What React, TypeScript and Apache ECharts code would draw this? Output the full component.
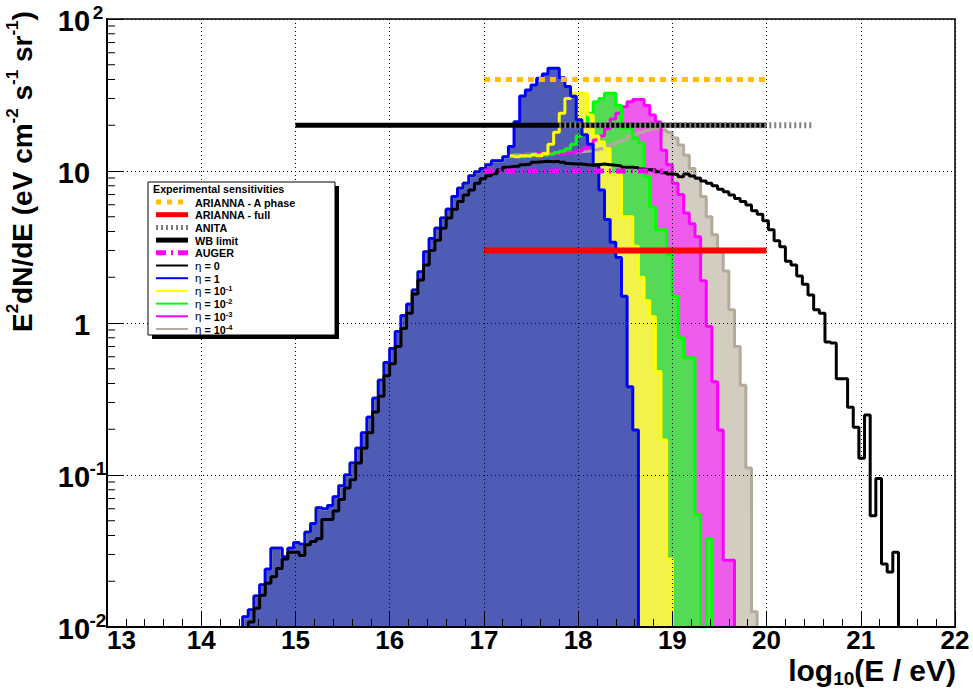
import React, { useEffect, useRef } from 'react';
import * as echarts from 'echarts';

// ---------------- data ----------------
const BIN_START = 13;
const BIN_WIDTH = 0.06;
const Y_FLOOR = 0.01;

// eta = 0 (black outline, no fill), first bin index 25 (log10E = 14.50)
const eta0FirstBin = 25;
const eta0Values = [
  0.0108, 0.0133, 0.0162, 0.0194, 0.0214, 0.0243, 0.028, 0.031, 0.031, 0.0295,
  0.0347, 0.0365, 0.038, 0.051, 0.051, 0.058, 0.069, 0.082, 0.093, 0.12,
  0.15, 0.19, 0.26, 0.33, 0.45, 0.54, 0.7, 0.92, 1.16, 1.55,
  1.92, 2.41, 3.0, 3.5, 4.2, 4.9, 5.6, 6.3, 6.95, 7.5,
  8.3, 8.9, 9.3, 9.6, 10.2, 10.6, 10.7, 10.8, 11.0, 11.1,
  11.4, 11.5, 11.6, 11.5, 11.6, 11.4, 11.2, 11.1, 11.1, 11.0,
  10.9, 11.0, 11.1, 11.0, 10.9, 10.8, 10.6, 10.6, 10.5, 10.3,
  10.2, 10.2, 9.9, 9.75, 9.55, 9.5, 9.18, 9.55, 9.27, 8.95,
  8.6, 8.3, 8.0, 7.58, 7.3, 6.95, 6.6, 6.3, 5.97, 5.48,
  5.2, 4.7, 4.1, 3.48, 3.18, 2.55, 2.41, 2.04, 1.8, 1.53,
  1.22, 1.16, 0.75, 0.74, 0.43, 0.43, 0.279, 0.206, 0.129, 0.248,
  0.054, 0.095, 0.026, 0.023, 0.031,
];

// low-energy part common to all eta != 0 histograms, first bin 24 (log10E = 14.44)
const sharedFirstBin = 24;
const sharedRiseValues = [
  0.0117, 0.013, 0.016, 0.019, 0.024, 0.033, 0.033, 0.029, 0.033, 0.036,
  0.035, 0.042, 0.048, 0.061, 0.06, 0.063, 0.072, 0.085, 0.1, 0.12,
  0.15, 0.19, 0.24, 0.32, 0.42, 0.55, 0.68, 0.88, 1.12, 1.33,
  1.65, 2.17, 2.94, 3.6, 4.2, 4.9, 5.6, 6.8, 7.7, 8.3,
  9.3, 9.9, 10.4, 11.0, 11.7, 11.7, 12.4,
];

// high-energy tails, first bin 71 (log10E = 17.26)
const tailFirstBin = 71;
const eta1Tail = [
  14.5, 21.1, 31.1, 34.1, 36.8, 40.8, 43.5, 47.4, 47.4, 41,
  36, 31, 21.7, 17.3, 15, 11, 7.5, 4.8, 3.4, 2.7,
  1.5, 0.38, 0.198,
];
const etaE1Tail = [
  12.6, 12.4, 12.6, 12.5, 12.8, 12.6, 13.0, 15, 18, 24,
  30, 32.5, 32.5, 32.5, 23.4, 17, 15.5, 14, 9.5, 9.4,
  5.0, 5.0, 3.2, 2.0, 1.4, 1.1, 0.48, 0.17, 0.028,
];
const etaE2Tail = [
  12.5, 12.6, 12.4, 12.7, 12.6, 12.8, 12.7, 12.9, 13.2, 13.5,
  14, 15, 17, 20, 24, 28.6, 30, 32.5, 32.5, 27,
  19.2, 19.2, 16.5, 15.3, 9.2, 5.8, 4.1, 4.1, 2.8, 1.5,
  0.8, 0.59, 0.59, 0.055, 0.01, 0.038,
];
const etaE3Tail = [
  12.7, 12.5, 12.8, 12.9, 12.6, 13.0, 12.8, 13.0, 13.1, 13.0,
  13.2, 13.3, 13.5, 14, 15, 16, 17, 19, 22, 24,
  26.5, 28.6, 29.5, 29.5, 27, 23.4, 21, 13.7, 11, 8.3,
  7, 5.3, 4.5, 3.7, 1.9, 0.95, 0.41, 0.198, 0.0275, 0.0275,
];
const etaE4Tail = [
  12.6, 12.8, 12.7, 12.9, 13.0, 12.8, 13.1, 13.0, 13.2, 13.1,
  13.3, 13.2, 13.4, 13.5, 13.6, 13.8, 14, 14.5, 15, 15.5,
  16, 17, 17.5, 18, 18.5, 19, 19.2, 18.6, 18, 16.5,
  14.8, 12.7, 10.4, 9.0, 6.8, 5.0, 3.8, 3.0, 2.2, 1.22,
  0.7, 0.39, 0.111, 0.0126,
];

// experimental sensitivities (flat lines): [from, to] in log10(E/eV) and level
const ariannaARange = [17, 20];
const ariannaALevel = 40;
const ariannaFullRange = [17, 20];
const ariannaFullLevel = 3;
const anitaRange = [17.8, 20.5];
const anitaLevel = 20;
const wbRange = [15, 20];
const wbLevel = 20;
const augerRange = [17, 18.9];
const augerLevel = 10;

// axis ticks
const yTickExponents = [-2, -1, 0, 1, 2];
const yTickLabels = ['{b|10}{s|-2}', '{b|10}{s|-1}', '{b|1}{s| }', '{b|10}{s| }', '{b|10}{s|2}'];
const yMinorMantissas = [2, 3, 4, 5, 6, 7, 8, 9];
const yMinorDecades = [-2, -1, 0, 1];

// legend
const legendTitle = 'Experimental sensitivities';
const legendTexts = [
  '{t|ARIANNA - A phase}',
  '{t|ARIANNA - full}',
  '{t|ANITA}',
  '{t|WB limit}',
  '{t|AUGER}',
  '{e|η}{t| = 0}',
  '{e|η}{t| = 1}',
  '{e|η}{t| = 10}{s|-1}',
  '{e|η}{t| = 10}{s|-2}',
  '{e|η}{t| = 10}{s|-3}',
  '{e|η}{t| = 10}{s|-4}',
];

// ---------------- styles ----------------
const FONT = "'Liberation Sans', Arial, Helvetica, sans-serif";
const C_BLUE = '#0000ff';
const C_YELLOW = '#ffff00';
const C_GREEN = '#00ff00';
const C_MAGENTA = '#ff00ff';
const C_GRAY = '#b4aa9c';
const C_ORANGE = '#ffbf00';

// hatched-fill look approximated by the average tone of each pattern
const F_BLUE = '#4f5cb6';
const F_YELLOW = '#f2f24a';
const F_GREEN = '#55da55';
const F_MAGENTA = '#ee5cee';
const F_GRAY = '#d3ccc1';

const legendSampleStyles: any[] = [
  { stroke: C_ORANGE, lineWidth: 5, lineDash: [5, 6] },
  { stroke: '#ff0000', lineWidth: 5 },
  { stroke: '#7f7f7f', lineWidth: 5, lineDash: [2, 3] },
  { stroke: '#000000', lineWidth: 5 },
  { stroke: C_MAGENTA, lineWidth: 5, lineDash: [10, 5, 2, 5] },
  { stroke: '#000000', lineWidth: 2 },
  { stroke: C_BLUE, lineWidth: 2 },
  { stroke: C_YELLOW, lineWidth: 2 },
  { stroke: C_GREEN, lineWidth: 2 },
  { stroke: C_MAGENTA, lineWidth: 2 },
  { stroke: C_GRAY, lineWidth: 2 },
];

function edge(k: number) {
  return Math.round((BIN_START + k * BIN_WIDTH) * 1000) / 1000;
}

function histPoints(first: number, values: number[]) {
  const pts: number[][] = [[edge(first), Y_FLOOR]];
  values.forEach((v, i) => pts.push([edge(first + i), v]));
  pts.push([edge(first + values.length), Y_FLOOR]);
  return pts;
}

function flatLine(range: number[], level: number, lineStyle: any, z: number) {
  return {
    type: 'line',
    data: [[range[0], level], [range[1], level]],
    symbol: 'none',
    silent: true,
    z,
    lineStyle: { cap: 'butt', ...lineStyle },
  };
}

export default function App() {
  const ref = useRef<HTMLDivElement>(null);

  useEffect(() => {
    if (!ref.current) return;
    const chart = echarts.init(ref.current, undefined, { renderer: 'svg' });

    const hist = (tail: number[], color: string, fill: string) => ({
      type: 'line',
      data: histPoints(sharedFirstBin, sharedRiseValues.concat(tail)),
      step: 'end',
      symbol: 'none',
      silent: true,
      clip: true,
      z: 2,
      lineStyle: { color, width: 3 },
      areaStyle: { color: fill, origin: 'start', opacity: 1 },
    });

    if (sharedFirstBin + sharedRiseValues.length !== tailFirstBin) {
      console.warn('bin mismatch');
    }

    const yMinorValues: number[] = [];
    yMinorDecades.forEach((d) => yMinorMantissas.forEach((m) => yMinorValues.push(m * Math.pow(10, d))));

    const legendX = 148;
    const legendY = 182;
    const rowY0 = 202;
    const rowStep = 12.7;

    const graphic: any[] = [
      { type: 'rect', z: 100, shape: { x: legendX + 4, y: legendY + 4, width: 187, height: 153 }, style: { fill: '#000' } },
      { type: 'rect', z: 101, shape: { x: legendX, y: legendY, width: 187, height: 153 }, style: { fill: '#fff', stroke: '#000', lineWidth: 1 } },
      {
        type: 'text', z: 102, x: 153, y: 189,
        style: { text: legendTitle, fill: '#000', font: `bold 10.7px ${FONT}`, textAlign: 'left', align: 'left', textVerticalAlign: 'middle', verticalAlign: 'middle' },
      },
    ];
    legendTexts.forEach((txt, i) => {
      const y = rowY0 + i * rowStep;
      graphic.push({
        type: 'line', z: 102,
        shape: { x1: 156, y1: y, x2: 188, y2: y },
        style: { lineCap: 'butt', ...legendSampleStyles[i] },
      });
      graphic.push({
        type: 'text', z: 102, x: 195, y,
        style: {
          text: txt, fill: '#000', textAlign: 'left', align: 'left', textVerticalAlign: 'middle', verticalAlign: 'middle',
          rich: {
            t: { fontSize: 10.8, fontWeight: 'bold', fontFamily: FONT, lineHeight: 12, verticalAlign: 'bottom' },
            e: { fontSize: 11.5, fontFamily: FONT, lineHeight: 12, verticalAlign: 'bottom' },
            s: { fontSize: 7.5, fontWeight: 'bold', fontFamily: FONT, lineHeight: 8, verticalAlign: 'top' },
          },
        },
      });
    });

    // axis titles
    graphic.push({
      type: 'text', z: 102, x: 4, y: 332, rotation: Math.PI / 2,
      style: {
        text: '{m|E}{p|2}{m|dN/dE (eV cm}{p|-2}{m| s}{p|-1}{m| sr}{p|-1}{m|)}',
        fill: '#000', textAlign: 'left', align: 'left', textVerticalAlign: 'top', verticalAlign: 'top',
        rich: {
          m: { fontSize: 28, fontWeight: 'bold', fontFamily: FONT, lineHeight: 32, verticalAlign: 'bottom' },
          p: { fontSize: 17, fontWeight: 'bold', fontFamily: FONT, lineHeight: 18, verticalAlign: 'top' },
        },
      },
    });
    graphic.push({
      type: 'text', z: 102, x: 956, y: 655,
      style: {
        text: '{t|log}{u|10}{t|(E / eV)}',
        fill: '#000', textAlign: 'right', align: 'right', textVerticalAlign: 'top', verticalAlign: 'top',
        rich: {
          t: { fontSize: 30, fontWeight: 'bold', fontFamily: FONT, lineHeight: 16, verticalAlign: 'top' },
          u: { fontSize: 19, fontWeight: 'bold', fontFamily: FONT, lineHeight: 16, padding: [14, 0, 0, 0], verticalAlign: 'top' },
        },
      },
    });

    const option: any = {
      animation: false,
      backgroundColor: '#ffffff',
      grid: { left: 107, right: 18, top: 19, bottom: 64, show: true, borderColor: '#000', borderWidth: 1.5, backgroundColor: 'transparent' },
      xAxis: {
        type: 'value', min: 13, max: 22, interval: 1, z: 10,
        axisLine: { show: true, onZero: false, lineStyle: { color: '#000', width: 2 } },
        axisTick: { show: true, inside: true, length: 16, lineStyle: { color: '#000', width: 1 } },
        minorTick: { show: true, splitNumber: 5, length: 8, lineStyle: { color: '#000', width: 1 } },
        splitLine: { show: true, lineStyle: { color: '#000', type: [1, 3], width: 1 } },
        axisLabel: { color: '#000', fontSize: 26, fontWeight: 'bold', fontFamily: FONT, margin: 4, lineHeight: 18, alignMinLabel: 'left' },
      },
      yAxis: {
        type: 'log', logBase: 10, min: 0.01, max: 100, z: 10,
        axisLine: { show: true, onZero: false, lineStyle: { color: '#000', width: 2 } },
        axisTick: { show: true, inside: true, length: 16, lineStyle: { color: '#000', width: 1 } },
        splitLine: { show: true, lineStyle: { color: '#000', type: [1, 3], width: 1 } },
        axisLabel: {
          margin: 1,
          formatter: (v: number) => {
            const i = yTickExponents.indexOf(Math.round(Math.log10(v)));
            return i >= 0 ? yTickLabels[i] : '';
          },
          rich: {
            b: { fontSize: 29, fontWeight: 'bold', fontFamily: FONT, color: '#000', lineHeight: 32, verticalAlign: 'bottom' },
            s: { fontSize: 19, fontWeight: 'bold', fontFamily: FONT, color: '#000', lineHeight: 19, verticalAlign: 'top', width: 16, align: 'left' },
          },
        },
      },
      series: [
        hist(etaE4Tail, C_GRAY, F_GRAY),
        hist(etaE3Tail, C_MAGENTA, F_MAGENTA),
        hist(etaE2Tail, C_GREEN, F_GREEN),
        hist(etaE1Tail, C_YELLOW, F_YELLOW),
        hist(eta1Tail, C_BLUE, F_BLUE),
        {
          type: 'line',
          data: histPoints(eta0FirstBin, eta0Values),
          step: 'end', symbol: 'none', silent: true, clip: true, z: 3,
          lineStyle: { color: '#000', width: 3 },
        },
        flatLine(wbRange, wbLevel, { color: '#000', width: 5 }, 4),
        flatLine(anitaRange, anitaLevel, { color: '#7f7f7f', width: 6, type: [2, 3] }, 4),
        flatLine(ariannaARange, ariannaALevel, { color: C_ORANGE, width: 5, type: [6, 5] }, 4),
        flatLine(ariannaFullRange, ariannaFullLevel, { color: '#ff0000', width: 6 }, 4),
        flatLine(augerRange, augerLevel, { color: C_MAGENTA, width: 5, type: [10, 5, 2, 5] }, 4),
        {
          type: 'custom', silent: true, clip: false, z: 12,
          data: yMinorValues.map((v) => [13, v]),
          renderItem: (_p: any, api: any) => {
            const pt = api.coord([api.value(0), api.value(1)]);
            return {
              type: 'line',
              shape: { x1: pt[0], y1: pt[1], x2: pt[0] + 8, y2: pt[1] },
              style: { stroke: '#000', lineWidth: 1 },
            };
          },
        },
      ],
      graphic,
    };

    chart.setOption(option);
    return () => chart.dispose();
  }, []);

  return (
    <div
      ref={ref}
      style={{ position: 'absolute', left: 0, top: 0, width: 973, height: 691, background: '#fff' }}
    />
  );
}
